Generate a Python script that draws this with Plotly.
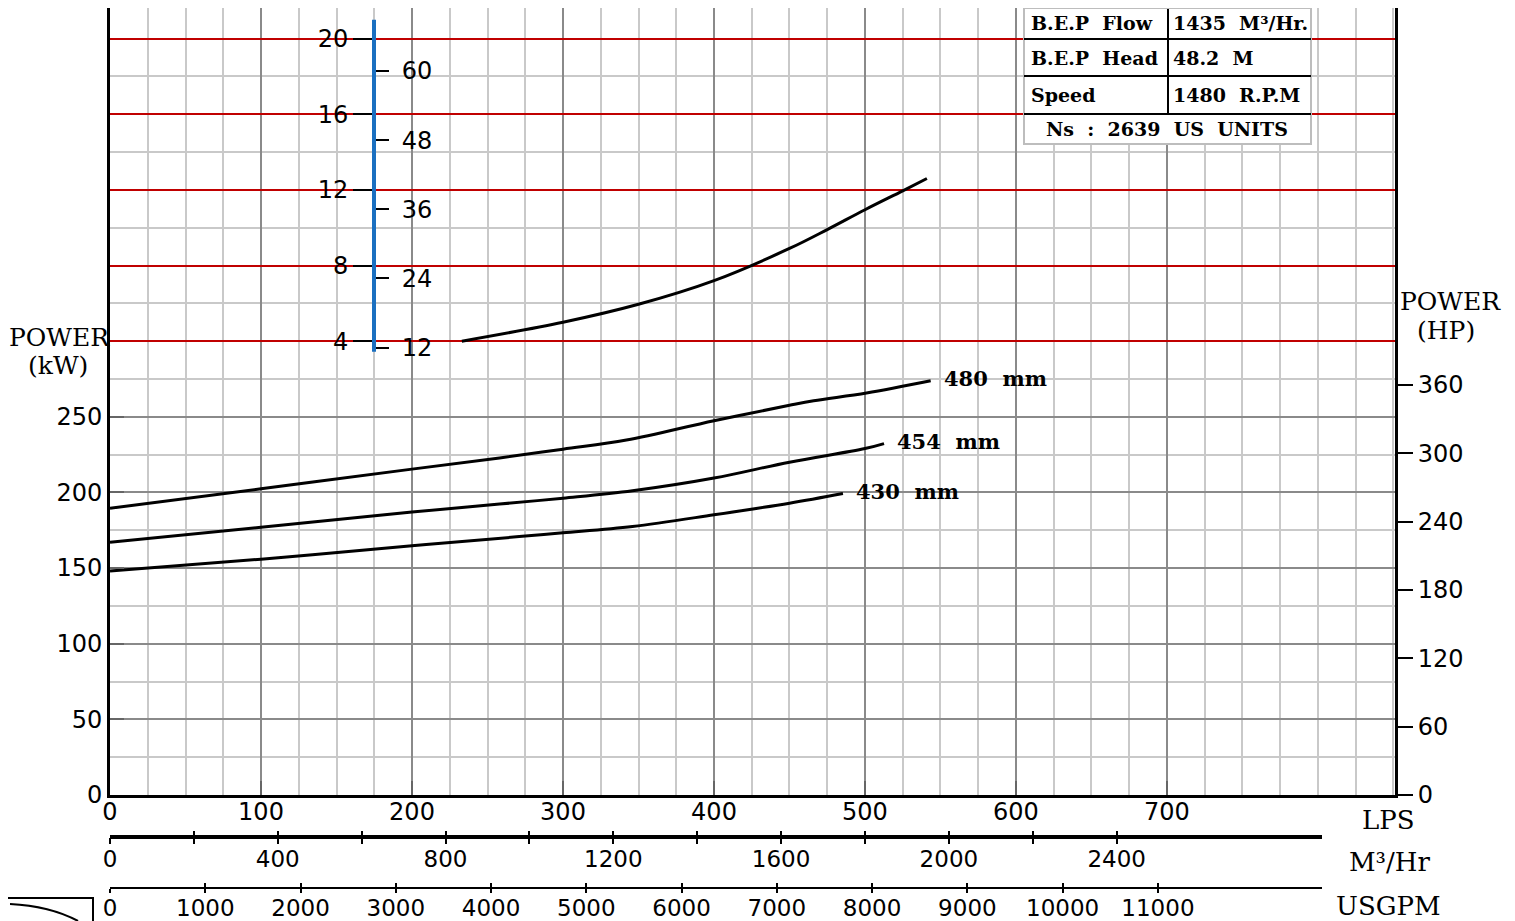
import plotly.graph_objects as go

# page has an 8px body margin: the figure is sized and laid out to compensate
PAGE_W, PAGE_H = 1515, 921
OFF = 8
W, H = PAGE_W - OFF, PAGE_H - OFF

# ---------------- data ----------------
lps_480 = [0, 100, 200, 258, 300, 342, 400, 450, 466, 501, 543.5]
kw_480 = [189.6, 202.4, 215.4, 222.8, 228.6, 234.6, 247.4, 257.6, 260.6, 265.7, 273.8]

lps_454 = [0, 100, 200, 258, 300, 346, 400, 450, 500, 512.6]
kw_454 = [167.1, 177.0, 187.0, 192.3, 196.2, 201.1, 209.5, 220.0, 229.0, 232.3]

lps_430 = [0, 100, 200, 271, 300, 346, 400, 450, 485.4]
kw_430 = [148.1, 155.9, 164.7, 170.8, 173.3, 177.5, 185.2, 192.9, 199.3]

lps_npsh = [233, 300, 350, 400, 450, 475, 500, 525, 541]
npsh_m = [4.0, 5.0, 5.95, 7.2, 8.9, 9.9, 10.95, 11.95, 12.6]

curve_labels = ["480\u00a0\u00a0mm", "454\u00a0\u00a0mm", "430\u00a0\u00a0mm"]

lps_ticks = [0, 100, 200, 300, 400, 500, 600, 700]
kw_ticks = [0, 50, 100, 150, 200, 250]
hp_ticks = [0, 60, 120, 180, 240, 300, 360]
npsh_m_ticks = [4, 8, 12, 16, 20]
npsh_ft_ticks = [12, 24, 36, 48, 60]
m3h_ticks = [0, 200, 400, 600, 800, 1000, 1200, 1400, 1600, 1800, 2000, 2200, 2400]
m3h_labelled = [0, 400, 800, 1200, 1600, 2000, 2400]
gpm_ticks = [0, 1000, 2000, 3000, 4000, 5000, 6000, 7000, 8000, 9000, 10000, 11000]

npsh_bar_m = [3.44, 21.0]   # extent of the blue NPSH scale bar (m)

table_rows = [["B.E.P\u00a0\u00a0Flow", "1435\u00a0\u00a0M\u00b3/Hr."],
              ["B.E.P\u00a0\u00a0Head", "48.2\u00a0\u00a0M"],
              ["Speed", "1480\u00a0\u00a0R.P.M"]]
table_footer = "Ns\u00a0\u00a0:\u00a0\u00a02639\u00a0\u00a0US\u00a0\u00a0UNITS"

# ---------------- scales ----------------
LPS_MAX = 851.0          # flow at the right edge of the grid
KW_SPAN = 525.5          # kW from the bottom axis to the very top of the page
HP_SPAN = 698.0
KW_AT_NPSH0 = 250.0
KW_PER_M = 12.5
M_TO_FT = 3.2808
LPS_TO_M3H = 3.6
LPS_TO_GPM = 15.8503

def px(x):
    return (x - OFF) / W

def py(y):
    return 1 - (y - OFF) / H

Y_BOT_PX = 795
X0, X1 = px(110), px(1395)
Y0 = py(Y_BOT_PX)
top_frac = (Y_BOT_PX - OFF) / Y_BOT_PX     # part of the grid that lies inside the figure
KW_MAX = KW_SPAN * top_frac
HP_MAX = HP_SPAN * top_frac

npsh_rng = [(0 - KW_AT_NPSH0) / KW_PER_M, (KW_MAX - KW_AT_NPSH0) / KW_PER_M]
ft_rng = [v * M_TO_FT for v in npsh_rng]
npsh_pos = px(374)

SANS = "DejaVu Sans"
SERIF = "DejaVu Serif"
LIGHT = "#c9c9c9"
DARK = "#8a8a8a"
RED = "#c00000"

fig = go.Figure()

for xs, ys in [(lps_480, kw_480), (lps_454, kw_454), (lps_430, kw_430)]:
    fig.add_trace(go.Scatter(x=xs, y=ys, mode="lines", line=dict(color="black", width=3, shape="spline"),
                             showlegend=False, hoverinfo="skip"))

fig.add_trace(go.Scatter(x=lps_npsh, y=npsh_m, yaxis="y3", mode="lines",
                         line=dict(color="black", width=3, shape="spline"), showlegend=False, hoverinfo="skip"))

# empty traces so that every auxiliary axis gets drawn
for xa, ya in [("x2", "y"), ("x4", "y"), ("x3", "y"), ("x5", "y"), ("x", "y2"), ("x", "y4")]:
    fig.add_trace(go.Scatter(x=[], y=[], xaxis=xa, yaxis=ya, showlegend=False, hoverinfo="skip"))

tick_font = dict(family=SANS, size=24, color="black")
bot_font = dict(family=SANS, size=23, color="black")

m3h_rng = [0, LPS_MAX * LPS_TO_M3H]
gpm_rng = [0, LPS_MAX * LPS_TO_GPM]

layout = dict(
    width=W, height=H, margin=dict(l=0, r=0, t=0, b=0, pad=0),
    paper_bgcolor="white", plot_bgcolor="rgba(0,0,0,0)", showlegend=False,
    xaxis=dict(domain=[X0, X1], range=[0, LPS_MAX], tickmode="array", tickvals=lps_ticks,
               ticks="inside", ticklen=14, tickwidth=2, tickcolor="#666", ticklabelstandoff=-7,
               showgrid=True, gridcolor=DARK, gridwidth=2,
               minor=dict(tickmode="linear", tick0=0, dtick=25, showgrid=True, gridcolor=LIGHT, gridwidth=2, ticks=""),
               showline=True, linecolor="black", linewidth=3, zeroline=False,
               tickfont=tick_font, automargin=False, anchor="y"),
    yaxis=dict(domain=[Y0, 1], range=[0, KW_MAX], tickmode="array", tickvals=kw_ticks,
               ticks="inside", ticklen=14, tickwidth=2, tickcolor="#666",
               showgrid=True, gridcolor=DARK, gridwidth=2,
               minor=dict(tickmode="linear", tick0=0, dtick=25, showgrid=True, gridcolor=LIGHT, gridwidth=2, ticks=""),
               showline=True, linecolor="black", linewidth=3, zeroline=False,
               tickfont=tick_font, automargin=False, anchor="x"),
    yaxis2=dict(overlaying="y", side="right", anchor="x", range=[0, HP_MAX], tickmode="array", tickvals=hp_ticks,
                ticks="outside", ticklen=15, tickwidth=2, tickcolor="black",
                showgrid=False, zeroline=False, showline=True, linecolor="black", linewidth=3,
                tickfont=tick_font, automargin=False),
    yaxis3=dict(overlaying="y", side="left", anchor="free", position=npsh_pos, range=npsh_rng,
                tickmode="array", tickvals=npsh_m_ticks, ticks="outside", ticklen=21, tickwidth=2,
                tickcolor="black", showgrid=True, gridcolor=RED, gridwidth=2, zeroline=False,
                showline=False, tickfont=tick_font, automargin=False),
    yaxis4=dict(overlaying="y", side="right", anchor="free", position=npsh_pos, range=ft_rng,
                tickmode="array", tickvals=npsh_ft_ticks, ticks="outside", ticklen=14, tickwidth=2,
                tickcolor="black", showgrid=False, zeroline=False, showline=False,
                tickfont=tick_font, automargin=False, ticklabelstandoff=8),
    xaxis2=dict(overlaying="x", anchor="free", position=py(837), range=m3h_rng,
                tickmode="array", tickvals=m3h_ticks,
                ticktext=[str(v) if v in m3h_labelled else "" for v in m3h_ticks],
                ticks="inside", ticklen=6, tickwidth=2, tickcolor="black", ticklabelstandoff=6,
                showline=False, showgrid=False, zeroline=False,
                tickfont=bot_font, automargin=False),
    xaxis4=dict(overlaying="x", anchor="free", position=py(837), range=m3h_rng,
                tickmode="array", tickvals=m3h_ticks, showticklabels=False,
                ticks="outside", ticklen=6, tickwidth=2, tickcolor="black",
                showline=False, showgrid=False, zeroline=False, automargin=False),
    xaxis3=dict(overlaying="x", anchor="free", position=py(888), range=gpm_rng,
                tickmode="array", tickvals=gpm_ticks, ticktext=[str(v) for v in gpm_ticks],
                ticks="inside", ticklen=5, tickwidth=2, tickcolor="black", ticklabelstandoff=4,
                showline=False, showgrid=False, zeroline=False,
                tickfont=bot_font, automargin=False),
    xaxis5=dict(overlaying="x", anchor="free", position=py(888), range=gpm_rng,
                tickmode="array", tickvals=gpm_ticks, showticklabels=False,
                ticks="outside", ticklen=4, tickwidth=2, tickcolor="black",
                showline=False, showgrid=False, zeroline=False, automargin=False),
)
fig.update_layout(**layout)

shapes = []
# lines of the secondary flow scales
shapes.append(dict(type="line", xref="paper", yref="paper", x0=px(110), x1=px(1322), y0=py(837), y1=py(837),
                   line=dict(color="black", width=4), layer="above"))
shapes.append(dict(type="line", xref="paper", yref="paper", x0=px(110), x1=px(1322), y0=py(888), y1=py(888),
                   line=dict(color="black", width=2), layer="above"))
# blue NPSH scale bar
shapes.append(dict(type="line", xref="paper", yref="y3", x0=npsh_pos, x1=npsh_pos,
                   y0=npsh_bar_m[0], y1=npsh_bar_m[1], line=dict(color="#1a6fc0", width=4), layer="above"))
# data table
shapes.append(dict(type="rect", xref="paper", yref="paper", x0=px(1024), x1=px(1311), y0=py(144), y1=py(8),
                   fillcolor="white", line=dict(color="#bdbdbd", width=2), layer="above"))
for yy in [39, 76, 114]:
    shapes.append(dict(type="line", xref="paper", yref="paper", x0=px(1024), x1=px(1311), y0=py(yy), y1=py(yy),
                       line=dict(color="black", width=2), layer="above"))
shapes.append(dict(type="line", xref="paper", yref="paper", x0=px(1168), x1=px(1168), y0=py(114), y1=py(9),
                   line=dict(color="black", width=2), layer="above"))
# partial logo, bottom left
shapes.append(dict(type="path", xref="paper", yref="paper",
                   path=f"M {px(8)},{py(898)} L {px(93)},{py(898)} L {px(93)},{py(921)}",
                   line=dict(color="black", width=2), layer="above"))
shapes.append(dict(type="path", xref="paper", yref="paper",
                   path=f"M {px(10)},{py(904)} Q {px(50)},{py(906)} {px(78)},{py(921)}",
                   line=dict(color="black", width=2), layer="above"))
fig.update_layout(shapes=shapes)

ann = []
for xs, ys, lab in [(lps_480, kw_480, curve_labels[0]), (lps_454, kw_454, curve_labels[1]),
                    (lps_430, kw_430, curve_labels[2])]:
    ann.append(dict(x=xs[-1], y=ys[-1], xref="x", yref="y", text=f"<b>{lab}</b>", showarrow=False,
                    xanchor="left", yanchor="middle", xshift=11, yshift=2,
                    font=dict(family=SERIF, size=21, color="black")))

def txt(x, y, s, size, bold=False, xanchor="center"):
    ann.append(dict(x=px(x), y=py(y), xref="paper", yref="paper", text=(f"<b>{s}</b>" if bold else s),
                    showarrow=False, xanchor=xanchor, yanchor="middle",
                    font=dict(family=SERIF, size=size, color="black")))

txt(59, 337, "POWER", 25)
txt(58, 365, "(kW)", 25)
txt(1450, 301, "POWER", 25)
txt(1446, 330, "(HP)", 25)
txt(1388, 820, "LPS", 26)
txt(1389, 862, "M\u00b3/Hr", 26)
txt(1388, 906, "USGPM", 26)

row_y = [23, 58, 95]
for (a, b), yy in zip(table_rows, row_y):
    txt(1029, yy, a, 19, bold=True, xanchor="left")
    txt(1171, yy, b, 19, bold=True, xanchor="left")
txt(1167, 129, table_footer, 19, bold=True)

fig.update_layout(annotations=ann)

fig.write_html("out.html")
